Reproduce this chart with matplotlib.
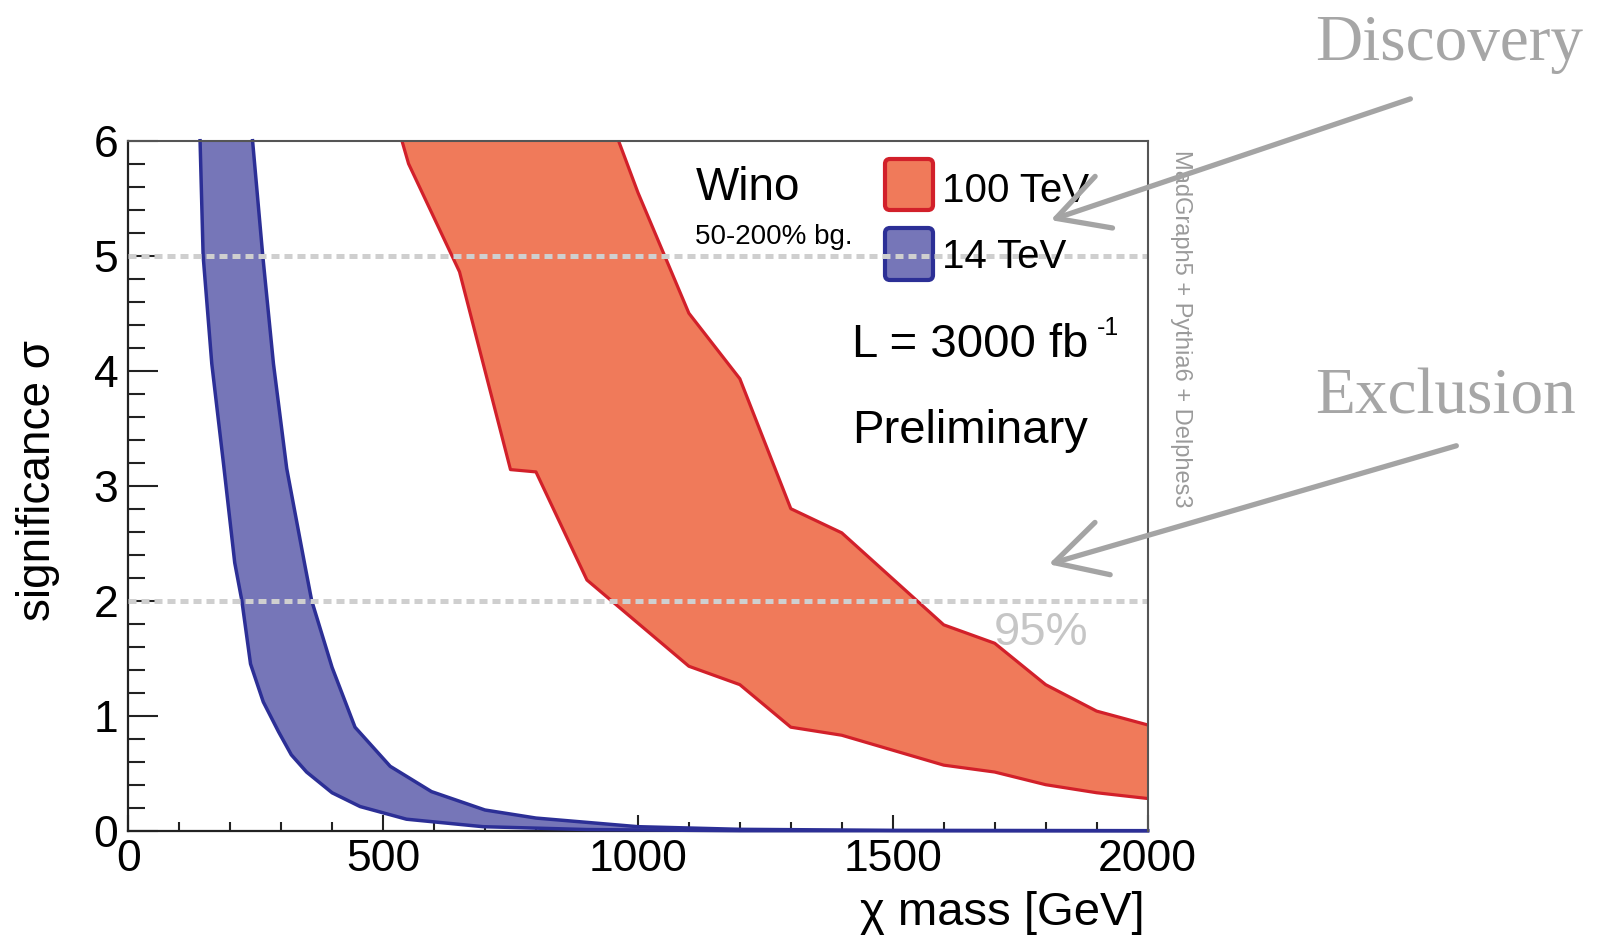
import matplotlib
matplotlib.use("Agg")
import matplotlib.pyplot as plt
from matplotlib.patches import FancyBboxPatch, FancyArrowPatch
from matplotlib.ticker import MultipleLocator

plt.rcParams['font.family'] = ['Liberation Sans', 'DejaVu Sans']

# 14 TeV band (blue), lower and upper edge: chi mass [GeV] -> significance
m14_lo = [141, 147, 164, 187, 209, 223, 240, 265, 295, 320, 350, 400, 455, 546, 696, 900, 1200, 2000]
s14_lo = [6.0, 5.0, 4.06, 3.19, 2.33, 2.0, 1.45, 1.12, 0.86, 0.66, 0.51, 0.33, 0.21, 0.1, 0.035, 0.01, 0.0, 0.0]
m14_hi = [244, 264, 285, 311, 347, 360, 400, 445, 514, 595, 700, 800, 1000, 1200, 1500, 2000]
s14_hi = [6.0, 5.0, 4.06, 3.15, 2.3, 2.0, 1.42, 0.90, 0.56, 0.34, 0.18, 0.11, 0.035, 0.012, 0.003, 0.0]

# 100 TeV band (red)
m100_lo = [537, 550, 650, 750, 800, 900, 1100, 1200, 1300, 1400, 1600, 1700, 1800, 1900, 2000]
s100_lo = [6.0, 5.8, 4.86, 3.14, 3.12, 2.18, 1.43, 1.27, 0.90, 0.83, 0.57, 0.51, 0.40, 0.33, 0.28]
m100_hi = [962, 1000, 1100, 1200, 1300, 1400, 1600, 1700, 1800, 1900, 2000]
s100_hi = [6.0, 5.55, 4.5, 3.93, 2.8, 2.59, 1.79, 1.63, 1.27, 1.04, 0.92]

ref_levels = [5, 2]   # discovery / 95% exclusion

W, H = 1611, 950
blue_fill, blue_line = '#7676b8', '#2c2f96'
red_fill, red_line = '#f07a5a', '#d2202a'
grey = '#a6a6a6'

fig = plt.figure(figsize=(W / 100, H / 100), dpi=100)
ax = fig.add_axes([128.2 / W, 1 - 830.7 / H, 1019.4 / W, 690.0 / H])


def px(x, y):
    # figure pixel (from top-left) -> figure fraction
    return x / W, 1 - y / H


def inch(x, y):
    return x / 100, (H - y) / 100


# bands
ax.fill(m14_lo + m14_hi[::-1], s14_lo + s14_hi[::-1], color=blue_fill, lw=0, zorder=2)
ax.plot(m14_lo, s14_lo, color=blue_line, lw=2.5, clip_on=False, zorder=3)
ax.plot(m14_hi, s14_hi, color=blue_line, lw=2.5, clip_on=False, zorder=3)

ax.fill(m100_lo + m100_hi[::-1], s100_lo + s100_hi[::-1], color=red_fill, lw=0, zorder=2)
ax.plot(m100_lo, s100_lo, color=red_line, lw=2.3, zorder=3)
ax.plot(m100_hi, s100_hi, color=red_line, lw=2.3, zorder=3)

for lev in ref_levels:
    ax.axhline(lev, color='#cfcfcf', lw=3.6, ls=(0, (1.6, 1.0)), zorder=5)

# legend boxes (drawn inside the axes so the dashed line passes over them)
for (x0, y0, x1, y1), fc, ec in [((885, 159, 933, 210), red_fill, red_line),
                                 ((885, 228, 933, 280), blue_fill, blue_line)]:
    bx, by = inch(x0, y1)
    ax.add_patch(FancyBboxPatch((bx, by), (x1 - x0) / 100, (y1 - y0) / 100,
                                boxstyle='round,pad=0,rounding_size=0.05',
                                transform=fig.dpi_scale_trans, fc=fc, ec=ec,
                                lw=3.0, zorder=4, clip_on=False))

ax.set_xlim(0, 2000)
ax.set_ylim(0, 6)

# axes style (ROOT-like)
ax.xaxis.set_major_locator(MultipleLocator(500))
ax.xaxis.set_minor_locator(MultipleLocator(100))
ax.yaxis.set_major_locator(MultipleLocator(1))
ax.yaxis.set_minor_locator(MultipleLocator(0.2))
ax.tick_params(axis='both', which='both', direction='in', width=1.5,
               top=False, right=False, labelsize=32, color='#222222')
ax.tick_params(axis='x', which='major', length=11.5, pad=6)
ax.tick_params(axis='x', which='minor', length=6.5)
ax.tick_params(axis='y', which='major', length=21.6, pad=7)
ax.tick_params(axis='y', which='minor', length=12)
for side in ['left', 'bottom']:
    ax.spines[side].set_linewidth(1.6)
    ax.spines[side].set_color('#222222')
for side in ['top', 'right']:
    ax.spines[side].set_linewidth(1.5)
    ax.spines[side].set_color('#555555')
    ax.spines[side].set_zorder(6)

ax.set_xlabel('χ mass [GeV]', fontsize=34)
ax.xaxis.label.set_ha('right')
ax.xaxis.label.set_va('baseline')
ax.xaxis.set_label_coords(0.9975, -0.1367)
ax.set_ylabel('significance σ', fontsize=33)
ax.yaxis.label.set_va('baseline')
ax.yaxis.set_label_coords(-0.0767, 0.508)

# annotations
fig.text(*px(696, 200), 'Wino', fontsize=33, va='baseline')
fig.text(*px(695, 244), '50-200% bg.', fontsize=20, va='baseline')
fig.text(*px(942, 202), '100 TeV', fontsize=29, va='baseline')
fig.text(*px(942, 268), '14 TeV', fontsize=29, va='baseline')
fig.text(*px(852, 357), 'L = 3000 fb', fontsize=34, va='baseline')
fig.text(*px(1097, 335), '-1', fontsize=18, va='baseline')
fig.text(*px(852, 443), 'Preliminary', fontsize=34, va='baseline')
fig.text(*px(994, 645), '95%', fontsize=34, va='baseline', color='#c6c6c6')
fig.text(*px(1181, 329), 'MadGraph5 + Pythia6 + Delphes3', fontsize=17,
         rotation=-90, ha='center', va='center', color='#9a9a9a')

fig.text(*px(1315, 60), 'Discovery', fontsize=47, va='baseline',
         family='Liberation Serif', color=grey)
fig.text(*px(1315, 414), 'Exclusion', fontsize=47, va='baseline',
         family='Liberation Serif', color=grey)

for tail, tip in [((1413, 98), (1048, 221)), ((1459, 445), (1046, 565))]:
    fig.add_artist(FancyArrowPatch(inch(*tail), inch(*tip), transform=fig.dpi_scale_trans,
                                   arrowstyle='->,head_length=1.3,head_width=0.7',
                                   mutation_scale=28, lw=3.8, color='#a4a4a4',
                                   zorder=10))

fig.savefig('out.png', dpi=100)
